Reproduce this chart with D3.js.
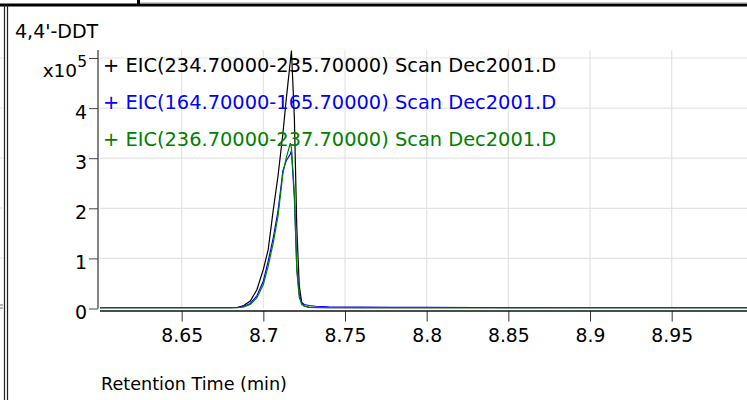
<!DOCTYPE html>
<html>
<head>
<meta charset="utf-8">
<script src="https://cdn.jsdelivr.net/npm/d3@7"></script>
<style>
  body { margin: 0; background: #fff; }
  text { font-family: "DejaVu Sans", Verdana, sans-serif; fill: #000; }
</style>
</head>
<body>
<div id="chart"></div>
<script>
var svgWidth = 747;
var svgHeight = 400;

// retention time (min) and counts (x10^5) for each EIC trace
var times = [8.600, 8.640, 8.670, 8.680, 8.684, 8.688, 8.692, 8.696, 8.700, 8.703, 8.706, 8.709, 8.712, 8.714, 8.7165, 8.7172,
  8.719, 8.7205, 8.722, 8.7235, 8.725, 8.728, 8.732, 8.740, 8.750, 8.760, 8.780, 8.800, 8.830, 8.860, 8.900, 8.950, 9.000];
var eic235 = [0.01, 0.01, 0.01, 0.01, 0.02, 0.06, 0.15, 0.37, 0.78, 1.18, 1.95, 2.65, 3.5, 4.17, 4.93, 5.15,
  3.8, 1.6, 0.45, 0.12, 0.05, 0.02, 0.015, 0.01, 0.01, 0.01, 0.01, 0.01, 0.01, 0.01, 0.01, 0.01, 0.01];
var eic165 = [0.015, 0.015, 0.015, 0.015, 0.02, 0.04, 0.1, 0.25, 0.55, 0.95, 1.4, 1.95, 2.75, 2.95, 3.08, 3.15,
  2.2, 0.8, 0.28, 0.12, 0.08, 0.06, 0.045, 0.035, 0.03, 0.03, 0.025, 0.025, 0.02, 0.018, 0.015, 0.015, 0.015];
var eic237 = [0.01, 0.01, 0.01, 0.01, 0.01, 0.03, 0.08, 0.21, 0.48, 0.85, 1.3, 1.85, 2.7, 3.0, 3.3, 3.2,
  2.3, 0.75, 0.22, 0.08, 0.05, 0.03, 0.02, 0.015, 0.015, 0.01, 0.01, 0.01, 0.01, 0.01, 0.01, 0.01, 0.01];

var seriesNames = ["+ EIC(234.70000-235.70000) Scan Dec2001.D",
  "+ EIC(164.70000-165.70000) Scan Dec2001.D",
  "+ EIC(236.70000-237.70000) Scan Dec2001.D"];
var seriesColors = ["#000000", "#0000ff", "#008000"];
var seriesValues = [eic235, eic165, eic237];

var xTicks = [8.65, 8.7, 8.75, 8.8, 8.85, 8.9, 8.95];
var yTicks = [0, 1, 2, 3, 4, 5];   // x10^5 counts

var plot = { left: 100, right: 747, top: 50, bottom: 308.5 };

var svg = d3.select("#chart")
  .append("svg")
  .attr("width", svgWidth)
  .attr("height", svgHeight);

// frame bits of the surrounding window
svg.append("rect").attr("x", 0).attr("y", 3.5).attr("width", svgWidth).attr("height", 3).attr("fill", "#000");
svg.append("line").attr("x1", 140).attr("x2", svgWidth).attr("y1", 3).attr("y2", 3).attr("stroke", "#999");
svg.append("rect").attr("x", 137).attr("y", 0).attr("width", 3).attr("height", 5).attr("fill", "#000");
svg.append("line").attr("x1", 4.5).attr("x2", 4.5).attr("y1", 5).attr("y2", svgHeight).attr("stroke", "#222").attr("stroke-width", 1.2);
svg.append("line").attr("x1", 7.5).attr("x2", 7.5).attr("y1", 5).attr("y2", svgHeight).attr("stroke", "#222").attr("stroke-width", 1.2);
[58, 108, 158, 208, 258].forEach(function(yy) {
  svg.append("line").attr("x1", 0).attr("x2", 3).attr("y1", yy).attr("y2", yy).attr("stroke", "#ddd");
});
svg.append("line").attr("x1", 0).attr("x2", 3).attr("y1", 305).attr("y2", 305).attr("stroke", "#666");
svg.append("line").attr("x1", 0).attr("x2", 3).attr("y1", 308).attr("y2", 308).attr("stroke", "#666");

var x = d3.scaleLinear()
  .domain([8.6, 9.0])
  .range([plot.left, plot.left + 0.4 * 1633.4]);

var y = d3.scaleLinear()
  .domain([0, 5.16])
  .range([plot.bottom, plot.top]);

// grid
var grid = svg.append("g");
grid.selectAll(".vg").data(xTicks).enter().append("line")
  .attr("x1", d => x(d)).attr("x2", d => x(d))
  .attr("y1", plot.top).attr("y2", plot.bottom)
  .attr("stroke", "#e4e4e4").attr("stroke-width", 1.2);
grid.selectAll(".hg").data(yTicks.slice(1)).enter().append("line")
  .attr("x1", plot.left).attr("x2", plot.right)
  .attr("y1", d => y(d)).attr("y2", d => y(d))
  .attr("stroke", "#e4e4e4").attr("stroke-width", 1.2);

// title
svg.append("text")
  .attr("x", 15).attr("y", 38)
  .attr("font-size", "19px")
  .text("4,4'-DDT");

// y axis
var leftAxis = d3.axisLeft(y)
  .tickValues(yTicks)
  .tickSize(9)
  .tickPadding(2)
  .tickFormat(d => d === 5 ? "" : d);

var yAxisG = svg.append("g")
  .attr("transform", "translate(98,0)")
  .call(leftAxis);
yAxisG.select(".domain").remove();
yAxisG.selectAll(".tick line").attr("stroke", "#444");
yAxisG.selectAll(".tick text")
  .attr("font-size", "19px")
  .attr("font-family", "DejaVu Sans")
  .attr("fill", "#000")
  .attr("dy", "0.55em");

svg.append("line")
  .attr("x1", 98).attr("x2", 98)
  .attr("y1", plot.top).attr("y2", y(0))
  .attr("stroke", "#333").attr("stroke-width", 1.2);

// exponent label at the top tick
var expo = svg.append("text")
  .attr("x", 87).attr("y", 77)
  .attr("text-anchor", "end")
  .attr("font-size", "18.5px");
expo.append("tspan").text("x10");
expo.append("tspan").attr("dy", -10).attr("font-size", "15.5px").text("5");

// x axis
var bottomAxis = d3.axisBottom(x)
  .tickValues(xTicks)
  .tickSize(10.5)
  .tickPadding(7)
  .tickFormat(d3.format("~g"));

var xAxisG = svg.append("g")
  .attr("transform", "translate(0,311)")
  .call(bottomAxis);
xAxisG.select(".domain").remove();
xAxisG.selectAll(".tick line").attr("stroke", "#333");
xAxisG.selectAll(".tick text")
  .attr("font-size", "18.8px")
  .attr("font-family", "DejaVu Sans")
  .attr("fill", "#000");

svg.append("line")
  .attr("x1", plot.left).attr("x2", plot.right)
  .attr("y1", 311).attr("y2", 311)
  .attr("stroke", "#111").attr("stroke-width", 1.5);

svg.append("text")
  .attr("x", 101).attr("y", 390)
  .attr("font-size", "17.6px")
  .text("Retention Time (min)");

// traces
svg.append("clipPath").attr("id", "clip")
  .append("rect")
  .attr("x", plot.left).attr("y", plot.top - 2)
  .attr("width", plot.right - plot.left).attr("height", plot.bottom - plot.top + 2);

var line = d3.line()
  .x((d, i) => x(times[i]))
  .y(d => y(d));

var traces = svg.append("g").attr("clip-path", "url(#clip)");
seriesValues.forEach(function(vals, i) {
  traces.append("path")
    .datum(vals)
    .attr("d", line)
    .attr("fill", "none")
    .attr("stroke", seriesColors[i])
    .attr("stroke-width", 1.2);
});

// legend
svg.selectAll(".legend")
  .data(seriesNames)
  .enter()
  .append("text")
  .attr("x", 103)
  .attr("y", (d, i) => 72 + i * 37)
  .attr("font-size", "19.4px")
  .style("fill", (d, i) => seriesColors[i])
  .text(d => d);
</script>
</body>
</html>
